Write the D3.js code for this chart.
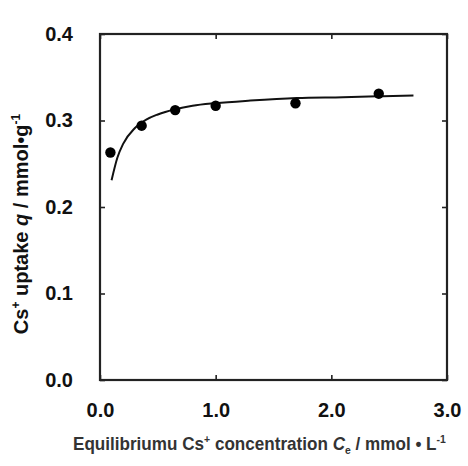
<!DOCTYPE html>
<html>
<head>
<meta charset="utf-8">
<script src="https://cdn.jsdelivr.net/npm/d3@7"></script>
<style>
  body { margin: 0; background: #fff; }
  svg text { font-family: "Liberation Sans", Arial, sans-serif; }
</style>
</head>
<body>
<div id="chart"></div>
<script>
// measured points: Ce (mmol/L) vs q (mmol/g)
const pointsCe = [0.09, 0.36, 0.65, 1.0, 1.69, 2.41];
const pointsQ = [0.263, 0.294, 0.312, 0.317, 0.320, 0.331];

// fitted isotherm curve
const curveCe = [0.10, 0.15, 0.20, 0.30, 0.40, 0.50, 0.65, 0.80, 1.00, 1.30, 1.70, 2.10, 2.40, 2.71];
const curveQ = [0.231, 0.257, 0.273, 0.291, 0.301, 0.307, 0.313, 0.317, 0.320, 0.323, 0.326, 0.327, 0.328, 0.329];

const xTicks = [0, 1, 2, 3];
const yTicks = [0, 0.1, 0.2, 0.3, 0.4];

const margin = { top: 34, right: 21, bottom: 86, left: 100 };
const width = 468 - margin.left - margin.right;
const height = 466 - margin.top - margin.bottom;

const svg = d3.select("#chart")
    .append("svg")
    .attr("width", 468)
    .attr("height", 466);

const g = svg.append("g")
    .attr("transform", `translate(${margin.left},${margin.top})`);

const x = d3.scaleLinear().domain([0, 3]).range([0, width]);
const y = d3.scaleLinear().domain([0, 0.4]).range([height, 0]);

// axes with inward ticks, mirrored on all four sides
function styleAxis(sel) {
    sel.select(".domain").remove();
    sel.selectAll(".tick line").attr("stroke", "#222").attr("stroke-width", 1.6);
    sel.selectAll(".tick text")
        .attr("fill", "#111")
        .style("font-size", "20px")
        .style("font-weight", "bold");
}

g.append("g")
    .attr("transform", `translate(0,${height})`)
    .call(d3.axisBottom(x).tickValues(xTicks).tickSize(-5).tickPadding(23).tickFormat(d3.format(".1f")))
    .call(styleAxis);

g.append("g")
    .call(d3.axisLeft(y).tickValues(yTicks).tickSize(-5).tickPadding(27).tickFormat(d3.format(".1f")))
    .call(styleAxis);

g.append("g")
    .call(d3.axisTop(x).tickValues(xTicks).tickSize(-5).tickFormat(""))
    .call(styleAxis);

g.append("g")
    .attr("transform", `translate(${width},0)`)
    .call(d3.axisRight(y).tickValues(yTicks).tickSize(-5).tickFormat(""))
    .call(styleAxis);

// frame
g.append("rect")
    .attr("x", 0)
    .attr("y", 0)
    .attr("width", width)
    .attr("height", height)
    .attr("fill", "none")
    .attr("stroke", "#222")
    .attr("stroke-width", 2.2);

// fitted curve
const line = d3.line()
    .x((d, i) => x(curveCe[i]))
    .y(d => y(d))
    .curve(d3.curveMonotoneX);

g.append("path")
    .datum(curveQ)
    .attr("d", line)
    .attr("fill", "none")
    .attr("stroke", "#111")
    .attr("stroke-width", 2);

// data points
g.selectAll(".dot")
    .data(pointsQ)
    .enter().append("circle")
    .attr("class", "dot")
    .attr("cx", (d, i) => x(pointsCe[i]))
    .attr("cy", d => y(d))
    .attr("r", 5.2)
    .attr("fill", "#000");

// squeeze a label horizontally to a target length
function fitWidth(text, target) {
    const w = text.node().getBBox().width;
    return Math.min(1, target / w);
}

// y axis label
const yLabel = svg.append("text")
    .attr("text-anchor", "middle")
    .style("font-size", "20px")
    .style("font-weight", "bold")
    .attr("fill", "#111");
yLabel.append("tspan").text("Cs");
yLabel.append("tspan").attr("dy", -8).style("font-size", "12px").text("+");
yLabel.append("tspan").attr("dy", 8).text(" uptake ");
yLabel.append("tspan").style("font-style", "italic").text("q");
yLabel.append("tspan").text(" / mmol\u2022g");
yLabel.append("tspan").attr("dy", -8).style("font-size", "12px").text("-1");
const ys = fitWidth(yLabel, 228);
yLabel.attr("transform", `translate(28,224) rotate(-90) scale(${ys},1)`);

// x axis label
const xLabel = svg.append("text")
    .style("font-size", "18px")
    .style("font-weight", "bold")
    .attr("fill", "#333");
xLabel.append("tspan").text("Equilibriumu Cs");
xLabel.append("tspan").attr("dy", -7).style("font-size", "11px").text("+");
xLabel.append("tspan").attr("dy", 7).text(" concentration ");
xLabel.append("tspan").style("font-style", "italic").text("C");
xLabel.append("tspan").attr("dy", 4).style("font-size", "11px").text("e");
xLabel.append("tspan").attr("dy", -4).text(" / mmol \u2022 L");
xLabel.append("tspan").attr("dy", -7).style("font-size", "11px").text("-1");
const xs = fitWidth(xLabel, 373);
xLabel.attr("transform", `translate(73,450) scale(${xs},1)`);
</script>
</body>
</html>
